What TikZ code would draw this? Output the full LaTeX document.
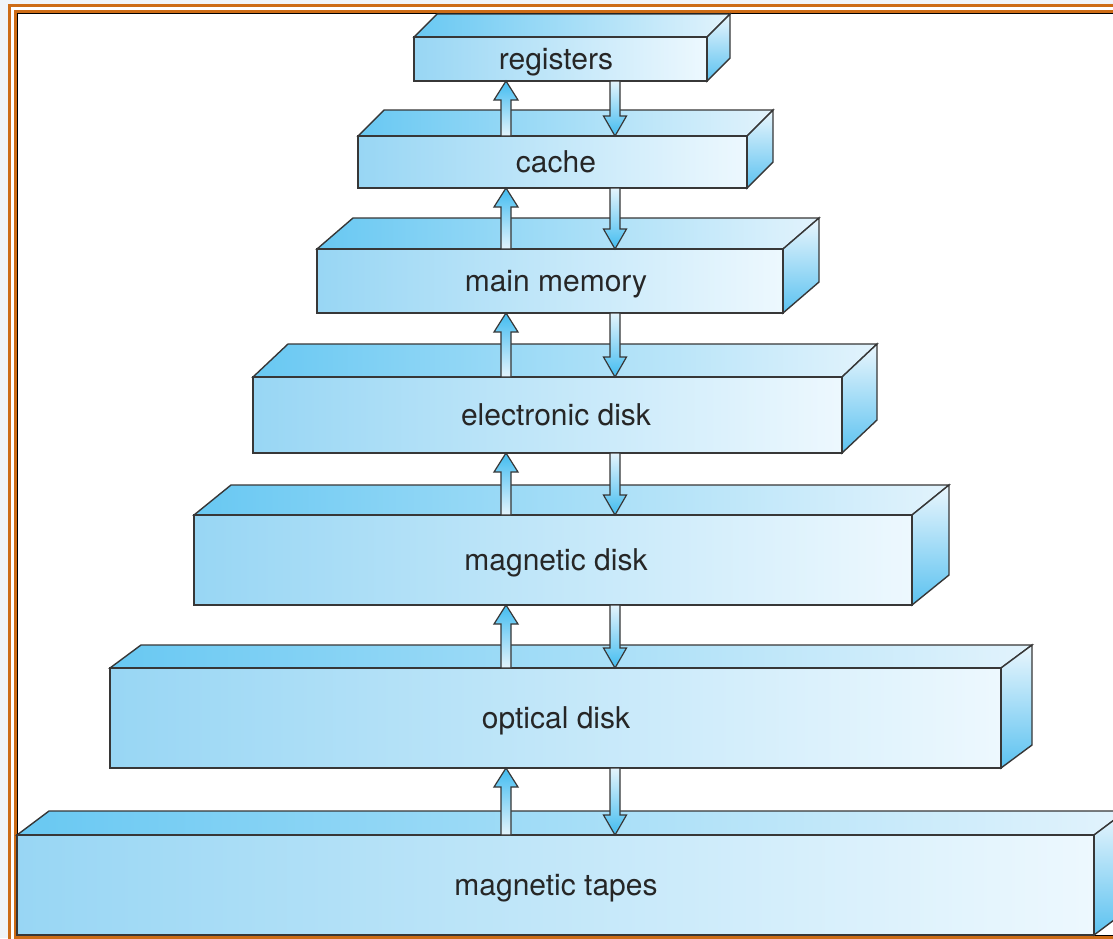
\documentclass[tikz,border=0pt]{standalone}
\usepackage{fontspec}
\setmainfont{TeX Gyre Heros}
\usetikzlibrary{calc}
\definecolor{frontL}{RGB}{152,214,244}
\definecolor{frontR}{RGB}{237,248,254}
\definecolor{topL}{RGB}{104,200,242}
\definecolor{topR}{RGB}{226,243,252}
\definecolor{sideT}{RGB}{234,246,253}
\definecolor{sideB}{RGB}{92,194,240}
\definecolor{arrC}{RGB}{66,188,240}
\definecolor{arrW}{RGB}{228,244,252}
\definecolor{edgeC}{RGB}{55,55,55}
\definecolor{frameO}{RGB}{205,108,22}
\definecolor{outbg}{RGB}{240,244,248}
\tikzset{
  edge/.style={draw=edgeC, line width=1.4pt, line join=miter},
  topface/.style={edge, left color=topL, right color=topR},
  sideface/.style={edge, top color=sideT, bottom color=sideB},
  frontface/.style={edge, left color=frontL, right color=frontR, rectangle, inner sep=0pt, outer sep=0pt},
  lbl/.style={font=\fontsize{30}{32}\selectfont, text=black!85, inner sep=0pt, anchor=base},
  uparrow/.style={draw=edgeC, line width=1.2pt, line join=miter, top color=arrC, bottom color=arrW},
  dnarrow/.style={draw=edgeC, line width=1.2pt, line join=miter, top color=arrW, bottom color=arrC},
}
\newcommand\memlevel[8]{%
  \path[topface] (#2,#3) -- ++(#6,-#7) -- ({#4+#6},{#3-#7}) -- (#4,#3) -- cycle;
  \path[sideface] (#4,#3) -- ++(#6,-#7) -- ({#4+#6},{#5-#7}) -- (#4,#5) -- cycle;
  \node[frontface, minimum width={#4-#2}, minimum height={#5-#3}] (#1) at ({(#2+#4)/2},{(#3+#5)/2}) {};
  \node[lbl] (#1-t) at (556,{(#3+#5)/2+10.5}) {#8};
}
\newcommand\updown[2]{%
  \path[uparrow] ($(upx |- #1.north)+(-5,0)$) -- ($(upx |- #2.south)+(-5,19)$) -- ($(upx |- #2.south)+(-12,19)$) -- (upx |- #2.south) -- ($(upx |- #2.south)+(12,19)$) -- ($(upx |- #2.south)+(5,19)$) -- ($(upx |- #1.north)+(5,0)$) -- cycle;
  \path[dnarrow] ($(dnx |- #2.south)+(-5,0)$) -- ($(dnx |- #1.north)+(-5,-20)$) -- ($(dnx |- #1.north)+(-11.5,-20)$) -- (dnx |- #1.north) -- ($(dnx |- #1.north)+(11.5,-20)$) -- ($(dnx |- #1.north)+(5,-20)$) -- ($(dnx |- #2.south)+(5,0)$) -- cycle;
}
\begin{document}
\begin{tikzpicture}[x=1pt,y=-1pt]
\useasboundingbox (0,0) rectangle (1113,938);
\fill[outbg] (0,0) rectangle (1113,938);
\fill[white] (8,4) rectangle (1130,950);
\draw[frameO, line width=2.6pt] (9.3,5.3) rectangle (1130,950);
\draw[frameO, line width=2.6pt] (15.3,11.3) rectangle (1130,937.2);
\draw[black, line width=1pt] (17.2,13.1) rectangle (1130,935.5);
\coordinate (upx) at (506,0);
\coordinate (dnx) at (615,0);
\memlevel{reg}{414}{37}{707}{81}{23}{23}{registers}
\memlevel{cache}{358}{136}{747}{188}{26}{26}{cache}
\memlevel{mem}{317}{249}{783}{313}{36}{31}{main memory}
\memlevel{edisk}{253}{377}{842}{453}{35}{33}{electronic disk}
\memlevel{mdisk}{194}{515}{912}{605}{37}{30}{magnetic disk}
\memlevel{odisk}{110}{668}{1001}{768}{31}{23}{optical disk}
\memlevel{tape}{17}{835}{1094}{935}{32}{24}{magnetic tapes}
\updown{cache}{reg}
\updown{mem}{cache}
\updown{edisk}{mem}
\updown{mdisk}{edisk}
\updown{odisk}{mdisk}
\updown{tape}{odisk}
\end{tikzpicture}
\end{document}
